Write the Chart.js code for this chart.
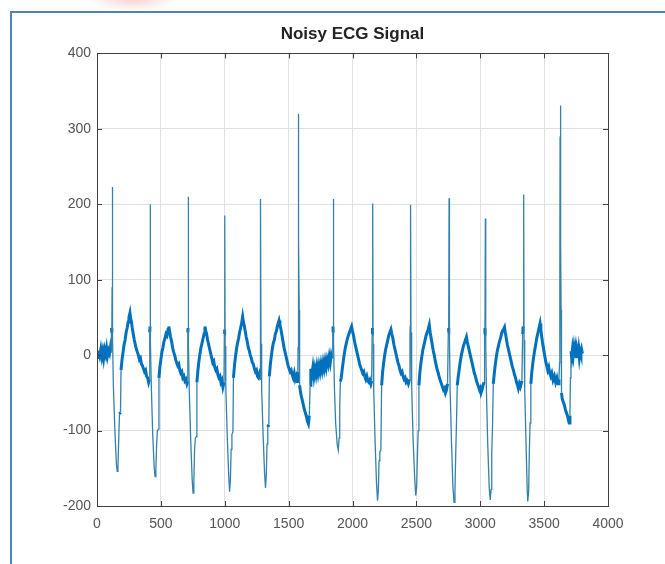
<!DOCTYPE html>
<html lang="en">
<head>
    <meta charset="UTF-8">
    <script src="https://cdn.jsdelivr.net/npm/chart.js"></script>
    <title>Noisy ECG Signal</title>
    <style>
        body {
            margin: 0;
            background-color: #ffffff;
            font-family: "Liberation Sans", Arial, sans-serif;
        }

        .page {
            position: relative;
            width: 665px;
            height: 564px;
            overflow: hidden;
        }

        /* document frame round the figure */
        .frame {
            position: absolute;
            left: 10px;
            top: 11px;
            width: 700px;
            height: 600px;
            border-top: 2px solid #4f81bd;
            border-left: 2px solid #4f81bd;
        }

        .stamp {
            position: absolute;
            left: 88px;
            top: -9px;
            width: 90px;
            height: 20px;
            background: radial-gradient(ellipse at center, rgba(236, 120, 115, 0.3), rgba(236, 120, 115, 0) 70%);
        }

        canvas {
            position: absolute;
            left: 0;
            top: 0;
        }
    </style>
</head>
<body>
    <div class="page">
        <div class="frame"></div>
        <div class="stamp"></div>
        <canvas id="ecgChart" width="665" height="564"></canvas>
    </div>

    <script>
        const chartTitle = 'Noisy ECG Signal';
        const xTicks = [0, 500, 1000, 1500, 2000, 2500, 3000, 3500, 4000];
        const yTicks = [-200, -100, 0, 100, 200, 300, 400];

        // [sample index, amplitude]
        const ecgSamples = [
            [0, 2], [8, -3], [15, 6], [22, 0], [30, 8], [38, -2], [45, 5], [52, -4], [60, 7], [68, 1],
            [75, 9], [82, -1], [90, 6], [98, 2], [105, 10], [110, 4],
            // beat 1
            [113, 36], [116, 30], [118, 90], [120, 223], [123, 25], [128, -40], [140, -100], [152, -145],
            [158, -154], [164, -148], [170, -112], [176, -78], [184, -76], [188, -20], [196, -6], [204, 4],
            [212, 14], [220, 20], [228, 30], [236, 36], [244, 44], [250, 50], [258, 56], [264, 48],
            [270, 44], [276, 36], [284, 28], [292, 20], [300, 14], [308, 8], [316, 4], [324, 0],
            [332, -6], [340, -4], [348, -12], [356, -14], [364, -18], [372, -22], [380, -20], [388, -28],
            [396, -30], [404, -36], [410, -32],
            // beat 2
            [413, 30], [415, 38], [416, 185], [417, 200], [420, 20], [425, -40], [436, -105], [448, -150],
            [455, -161], [461, -150], [467, -118], [473, -100], [481, -98], [485, -30], [492, -16], [500, -6],
            [508, 4], [516, 10], [524, 18], [532, 22], [540, 28], [548, 26], [556, 34], [562, 38],
            [568, 32], [576, 24], [584, 18], [592, 10], [600, 4], [608, 0], [616, -6], [624, -10],
            [632, -14], [640, -12], [648, -20], [656, -24], [664, -22], [672, -30], [680, -28], [688, -34],
            [696, -32], [704, -38], [710, -35],
            // beat 3
            [711, 30], [713, 36], [714, 210], [717, 15], [722, -45], [733, -110], [745, -165], [752, -183],
            [758, -168], [764, -125], [770, -110], [778, -108], [782, -36], [790, -20], [798, -8], [806, 2],
            [814, 10], [822, 16], [830, 22], [838, 28], [845, 38], [852, 32], [858, 28], [866, 20],
            [874, 14], [882, 8], [890, 2], [898, -4], [906, -10], [914, -8], [922, -16], [930, -20],
            [938, -18], [946, -26], [954, -30], [962, -28], [970, -36], [978, -33], [986, -42], [994, -36],
            // beat 4
            [997, 28], [999, 34], [1000, 185], [1003, 12], [1008, -40], [1019, -105], [1031, -160], [1038, -181],
            [1044, -165], [1050, -125], [1056, -105], [1064, -102], [1068, -30], [1076, -14], [1084, -2], [1092, 8],
            [1100, 16], [1108, 22], [1116, 30], [1124, 36], [1132, 42], [1140, 51], [1146, 44], [1152, 40],
            [1160, 32], [1168, 24], [1176, 18], [1184, 10], [1192, 6], [1200, 0], [1208, -4], [1216, -10],
            [1224, -12], [1232, -18], [1240, -22], [1248, -20], [1256, -28], [1264, -30], [1270, -26], [1276, -32],
            // beat 5
            [1278, 30], [1280, 42], [1281, 207], [1284, 15], [1289, -45], [1300, -105], [1312, -158], [1319, -176],
            [1325, -160], [1331, -118], [1337, -95], [1345, -92], [1349, -28], [1356, -14], [1364, -2], [1372, 8],
            [1380, 16], [1388, 20], [1396, 28], [1404, 32], [1412, 38], [1418, 42], [1425, 46], [1432, 40],
            [1440, 34], [1448, 26], [1456, 18], [1464, 10], [1472, 4], [1480, -2], [1488, -8], [1496, -14],
            [1504, -18], [1512, -22], [1520, -20], [1528, -26], [1536, -30], [1544, -24], [1552, -32], [1560, -28],
            [1568, -35], [1572, -22],
            // beat 6
            [1574, 10], [1575, 113], [1576, 280], [1577, 320], [1579, 260], [1581, 150], [1583, 60], [1586, -40],
            [1592, -48], [1600, -55], [1610, -62], [1620, -70], [1630, -76], [1640, -82], [1648, -88], [1655, -91],
            [1662, -80], [1668, -40], [1674, -18], [1682, -26], [1690, -16], [1698, -28], [1706, -18], [1714, -26],
            [1722, -15], [1730, -24], [1738, -14], [1746, -22], [1754, -12], [1762, -20], [1770, -10], [1778, -18],
            [1786, -8], [1794, -16], [1802, -6], [1810, -12], [1818, -2], [1826, -10], [1834, 0], [1840, -4],
            [1844, 20], [1847, 38],
            // beat 7
            [1849, 30], [1850, 207], [1853, 20], [1858, -40], [1868, -90], [1880, -118], [1889, -126], [1895, -110],
            [1900, -70], [1905, -35], [1912, -30], [1920, -18], [1928, -8], [1936, 2], [1944, 10], [1952, 16],
            [1960, 22], [1968, 26], [1976, 30], [1984, 34], [1993, 38], [2000, 32], [2008, 26], [2016, 18],
            [2024, 12], [2032, 6], [2040, 0], [2048, -6], [2056, -12], [2064, -16], [2072, -20], [2080, -24],
            [2088, -22], [2096, -28], [2104, -32], [2112, -28], [2120, -34], [2128, -36], [2136, -33], [2144, -38],
            [2150, -34],
            // beat 8
            [2154, 28], [2156, 36], [2158, 201], [2161, 15], [2166, -45], [2176, -110], [2188, -170], [2196, -193],
            [2202, -180], [2208, -140], [2214, -128], [2222, -126], [2228, -40], [2236, -22], [2244, -10], [2252, 0],
            [2260, 8], [2268, 14], [2276, 20], [2284, 26], [2292, 30], [2301, 34], [2308, 28], [2316, 22],
            [2324, 14], [2332, 8], [2340, 2], [2348, -4], [2356, -10], [2364, -14], [2372, -20], [2380, -24],
            [2388, -22], [2396, -28], [2404, -32], [2412, -30], [2420, -36], [2428, -34], [2437, -38], [2446, -32],
            // beat 9
            [2450, 28], [2452, 38], [2454, 143], [2455, 199], [2458, 30], [2463, -40], [2474, -110], [2486, -160],
            [2495, -186], [2502, -175], [2508, -135], [2514, -100], [2520, -40], [2528, -22], [2536, -10], [2544, 0],
            [2552, 8], [2560, 14], [2568, 20], [2576, 26], [2584, 30], [2592, 34], [2601, 40], [2608, 30],
            [2616, 22], [2624, 14], [2632, 6], [2640, 0], [2648, -8], [2656, -14], [2664, -20], [2672, -24],
            [2680, -30], [2688, -34], [2696, -38], [2704, -42], [2712, -46], [2720, -44], [2728, -50], [2736, -46],
            [2744, -38],
            // beat 10
            [2750, 30], [2753, 36], [2756, 208], [2759, 20], [2764, -45], [2775, -115], [2786, -175], [2795, -195],
            [2802, -180], [2808, -130], [2814, -90], [2820, -40], [2828, -28], [2836, -18], [2844, -8], [2852, 0],
            [2860, 6], [2868, 12], [2876, 16], [2884, 20], [2892, 24], [2898, 18], [2906, 12], [2914, 6],
            [2922, 0], [2930, -6], [2938, -12], [2946, -18], [2954, -24], [2962, -28], [2970, -34], [2978, -38],
            [2986, -42], [2994, -46], [3000, -44], [3006, -50], [3014, -46], [3022, -40], [3030, -36],
            // beat 11
            [3034, 28], [3037, 36], [3040, 181], [3043, 15], [3048, -45], [3058, -115], [3070, -175], [3078, -192],
            [3085, -178], [3090, -130], [3096, -95], [3102, -38], [3110, -24], [3118, -12], [3126, -2], [3134, 6],
            [3142, 12], [3150, 18], [3158, 22], [3166, 28], [3174, 32], [3182, 34], [3190, 37], [3196, 30],
            [3204, 22], [3212, 14], [3220, 8], [3228, 2], [3236, -4], [3244, -10], [3252, -16], [3260, -20],
            [3268, -26], [3276, -30], [3284, -36], [3292, -40], [3298, -44], [3306, -38], [3314, -42], [3326, -34],
            // beat 12
            [3332, 28], [3336, 38], [3340, 213], [3343, 20], [3348, -45], [3358, -115], [3368, -180], [3372, -194],
            [3379, -180], [3384, -130], [3390, -90], [3396, -38], [3404, -22], [3412, -10], [3420, 0], [3428, 8],
            [3436, 16], [3444, 24], [3452, 30], [3460, 36], [3468, 42], [3474, 34], [3480, 26], [3488, 16],
            [3496, 8], [3504, 0], [3512, -8], [3520, -14], [3528, -20], [3536, -16], [3544, -24], [3552, -28],
            [3560, -24], [3570, -33], [3580, -28], [3590, -36], [3600, -30], [3610, -38], [3616, -32],
            // beat 13
            [3621, -10], [3623, 120], [3625, 290], [3627, 331], [3629, 300], [3631, 148], [3633, 60], [3636, -50],
            [3642, -58], [3650, -62], [3658, -66], [3666, -72], [3674, -76], [3682, -80], [3690, -86], [3696, -90],
            [3702, -80], [3706, -30], [3710, 5], [3716, -2], [3722, 8], [3728, 0], [3734, 10], [3740, 2],
            [3746, 9], [3752, -4], [3758, 6], [3764, 0], [3770, 8], [3776, -3], [3782, 5], [3788, 1],
            [3794, 7], [3800, 2]
        ];

        const lineBlue = '#0072bd';
        const spikeBlue = '#3482ab';
        const axisGray = '#404040';
        const labelGray = '#555555';

        // QRS parts of the trace (steep, or out at the R/S extremes) are thin,
        // the slow noisy parts are drawn heavier
        function isSteep(ctx) {
            const y0 = ctx.p0.parsed.y;
            const y1 = ctx.p1.parsed.y;
            const dx = ctx.p1.parsed.x - ctx.p0.parsed.x;
            if (Math.min(y0, y1) < -95 || Math.max(y0, y1) > 70) return true;
            return Math.abs(y1 - y0) / dx > 4;
        }

        // matlab style box with inward ticks on all four sides
        const boxAxes = {
            id: 'boxAxes',
            afterDatasetsDraw(chart) {
                const { ctx, chartArea: a, scales } = chart;
                const len = 5;
                ctx.save();
                ctx.strokeStyle = axisGray;
                ctx.lineWidth = 1;
                ctx.beginPath();
                xTicks.forEach(v => {
                    const px = Math.round(scales.x.getPixelForValue(v)) + 0.5;
                    ctx.moveTo(px, a.bottom);
                    ctx.lineTo(px, a.bottom - len);
                    ctx.moveTo(px, a.top);
                    ctx.lineTo(px, a.top + len);
                });
                yTicks.forEach(v => {
                    const py = Math.round(scales.y.getPixelForValue(v)) + 0.5;
                    ctx.moveTo(a.left, py);
                    ctx.lineTo(a.left + len, py);
                    ctx.moveTo(a.right, py);
                    ctx.lineTo(a.right - len, py);
                });
                ctx.stroke();
                ctx.strokeRect(Math.round(a.left) + 0.5, Math.round(a.top) + 0.5,
                    Math.round(a.right - a.left), Math.round(a.bottom - a.top));
                ctx.restore();
            }
        };

        const tickFont = { family: '"Liberation Sans", Arial, sans-serif', size: 14 };

        const ctx = document.getElementById('ecgChart').getContext('2d');
        new Chart(ctx, {
            type: 'line',
            data: {
                datasets: [{
                    data: ecgSamples.map(p => ({ x: p[0], y: p[1] })),
                    borderColor: lineBlue,
                    borderWidth: 2.8,
                    pointRadius: 0,
                    tension: 0,
                    segment: {
                        borderWidth: c => isSteep(c) ? 1.3 : 3,
                        borderColor: c => isSteep(c) ? spikeBlue : lineBlue
                    }
                }]
            },
            options: {
                responsive: false,
                animation: false,
                layout: { padding: { left: 0, right: 57, top: 0, bottom: 0 } },
                plugins: {
                    legend: { display: false },
                    tooltip: { enabled: false },
                    title: {
                        display: true,
                        text: chartTitle,
                        fullSize: false,
                        color: '#222222',
                        font: { family: '"Liberation Sans", Arial, sans-serif', size: 17, weight: 'bold' },
                        padding: { top: 24, bottom: 9 }
                    }
                },
                scales: {
                    x: {
                        type: 'linear',
                        min: 0,
                        max: 4000,
                        afterBuildTicks: s => { s.ticks = xTicks.map(v => ({ value: v })); },
                        afterFit: s => { s.height = 58; },
                        grid: { color: '#e0e0e0', drawTicks: false },
                        border: { display: false },
                        ticks: {
                            padding: 10,
                            maxRotation: 0,
                            color: labelGray,
                            font: tickFont,
                            callback: v => String(v)
                        }
                    },
                    y: {
                        min: -200,
                        max: 400,
                        afterBuildTicks: s => { s.ticks = yTicks.map(v => ({ value: v })); },
                        afterFit: s => { s.width = 97; },
                        grid: { color: '#e0e0e0', drawTicks: false },
                        border: { display: false },
                        ticks: {
                            padding: 6,
                            color: labelGray,
                            font: tickFont,
                            callback: v => String(v)
                        }
                    }
                }
            },
            plugins: [boxAxes]
        });
    </script>
</body>
</html>
